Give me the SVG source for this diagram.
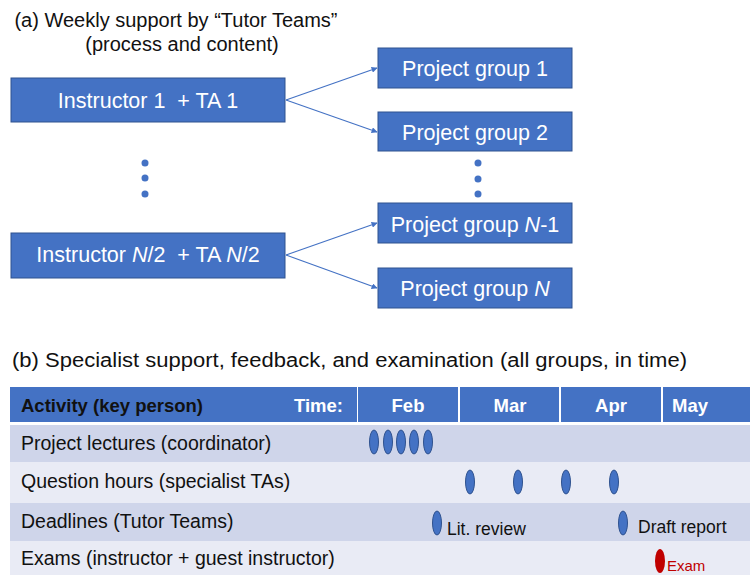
<svg xmlns="http://www.w3.org/2000/svg" width="750" height="575" viewBox="0 0 750 575">
<style>
text{font-family:"Liberation Sans",Arial,sans-serif}
.box{fill:#4472C4;stroke:#2F528F;stroke-width:1}
.bt{fill:#fff;font-size:21.5px;text-anchor:middle}
.title{fill:#111;font-size:20px}
.conn line{stroke:#4472C4;stroke-width:1.2;marker-end:url(#ah)}
.dot{fill:#4472C4}
.hdr{fill:#4472C4}
.r1{fill:#CFD5EA}
.r2{fill:#E9EBF5}
.lbl{fill:#111;font-size:19.5px}
.ht{fill:#fff;font-size:18.5px;font-weight:bold}
.ev{fill:#4472C4;stroke:#2F528F;stroke-width:1}
.note{fill:#111;font-size:17.5px}
</style>
<defs>
<marker id="ah" viewBox="0 0 10 10" refX="9" refY="5" markerWidth="6" markerHeight="6" orient="auto" markerUnits="userSpaceOnUse">
<path d="M0,0 L10,5 L0,10 z" fill="#4472C4"/>
</marker>
</defs>
<rect width="750" height="575" fill="#fff"/>
<text class="title" x="176" y="27" text-anchor="middle">(a) Weekly support by “Tutor Teams”</text>
<text class="title" x="182" y="51" text-anchor="middle">(process and content)</text>

<g id="instr1"><rect class="box" x="11" y="78" width="274" height="44"/><text class="bt" x="148" y="108" xml:space="preserve">Instructor 1  + TA 1</text></g>
<g id="instrN2"><rect class="box" x="11" y="233" width="274" height="45"/><text class="bt" x="148" y="262" xml:space="preserve">Instructor <tspan font-style="italic">N</tspan>/2  + TA <tspan font-style="italic">N</tspan>/2</text></g>
<g id="pg1"><rect class="box" x="378" y="48" width="194" height="40"/><text class="bt" x="475" y="76">Project group 1</text></g>
<g id="pg2"><rect class="box" x="378" y="112" width="194" height="39"/><text class="bt" x="475" y="140">Project group 2</text></g>
<g id="pgN1"><rect class="box" x="378" y="203" width="194" height="40"/><text class="bt" x="475" y="232">Project group <tspan font-style="italic">N</tspan>-1</text></g>
<g id="pgN"><rect class="box" x="378" y="268" width="194" height="40"/><text class="bt" x="475" y="296">Project group <tspan font-style="italic">N</tspan></text></g>

<g id="dots">
<circle class="dot" cx="145" cy="163" r="3.5"/><circle class="dot" cx="145" cy="178" r="3.5"/><circle class="dot" cx="145" cy="194" r="3.5"/>
<circle class="dot" cx="478" cy="163" r="3.5"/><circle class="dot" cx="478" cy="179" r="3.5"/><circle class="dot" cx="478" cy="194" r="3.5"/>
</g>

<g class="conn" id="connectors">
<line x1="286" y1="100" x2="377" y2="68"/>
<line x1="286" y1="100" x2="377" y2="132"/>
<line x1="286" y1="255" x2="377" y2="223"/>
<line x1="286" y1="255" x2="377" y2="288"/>
</g>

<text class="title" x="12" y="367" font-size="21.5" textLength="675" lengthAdjust="spacingAndGlyphs">(b) Specialist support, feedback, and examination (all groups, in time)</text>

<g id="table">
<rect class="hdr" x="10" y="387" width="347" height="35"/>
<rect class="hdr" x="358" y="387" width="100" height="35"/>
<rect class="hdr" x="460" y="387" width="99" height="35"/>
<rect class="hdr" x="561" y="387" width="100" height="35"/>
<rect class="hdr" x="663" y="387" width="87" height="35"/>
<rect class="r1" x="10" y="425" width="740" height="37"/>
<rect class="r2" x="10" y="462" width="740" height="41"/>
<rect class="r1" x="10" y="503" width="740" height="38"/>
<rect class="r2" x="10" y="541" width="740" height="34"/>
<text x="21" y="412" fill="#111" font-size="18.5" font-weight="bold">Activity (key person)</text>
<text class="ht" x="343" y="412" text-anchor="end">Time:</text>
<text class="ht" x="408" y="412" text-anchor="middle">Feb</text>
<text class="ht" x="510" y="412" text-anchor="middle">Mar</text>
<text class="ht" x="611" y="412" text-anchor="middle">Apr</text>
<text class="ht" x="672" y="412">May</text>
<text class="lbl" x="21" y="450">Project lectures (coordinator)</text>
<text class="lbl" x="21" y="488">Question hours (specialist TAs)</text>
<text class="lbl" x="21" y="528">Deadlines (Tutor Teams)</text>
<text class="lbl" x="21" y="565">Exams (instructor + guest instructor)</text>
</g>

<g id="events">
<ellipse class="ev" cx="374" cy="442" rx="4.5" ry="12"/>
<ellipse class="ev" cx="388" cy="442" rx="4.5" ry="12"/>
<ellipse class="ev" cx="401" cy="442" rx="4.5" ry="12"/>
<ellipse class="ev" cx="414" cy="442" rx="4.5" ry="12"/>
<ellipse class="ev" cx="428" cy="442" rx="4.5" ry="12"/>
<ellipse class="ev" cx="470" cy="482" rx="4.5" ry="12"/>
<ellipse class="ev" cx="518" cy="482" rx="4.5" ry="12"/>
<ellipse class="ev" cx="566" cy="482" rx="4.5" ry="12"/>
<ellipse class="ev" cx="614" cy="482" rx="4.5" ry="12"/>
<ellipse class="ev" cx="437" cy="523" rx="4.5" ry="12"/>
<text class="note" x="447" y="535">Lit. review</text>
<ellipse class="ev" cx="623" cy="523" rx="4.5" ry="12"/>
<text class="note" x="638" y="533">Draft report</text>
<ellipse cx="660" cy="561" rx="5" ry="12" fill="#C00000"/>
<text x="667" y="571" fill="#C00000" font-size="15">Exam</text>
</g>
</svg>
